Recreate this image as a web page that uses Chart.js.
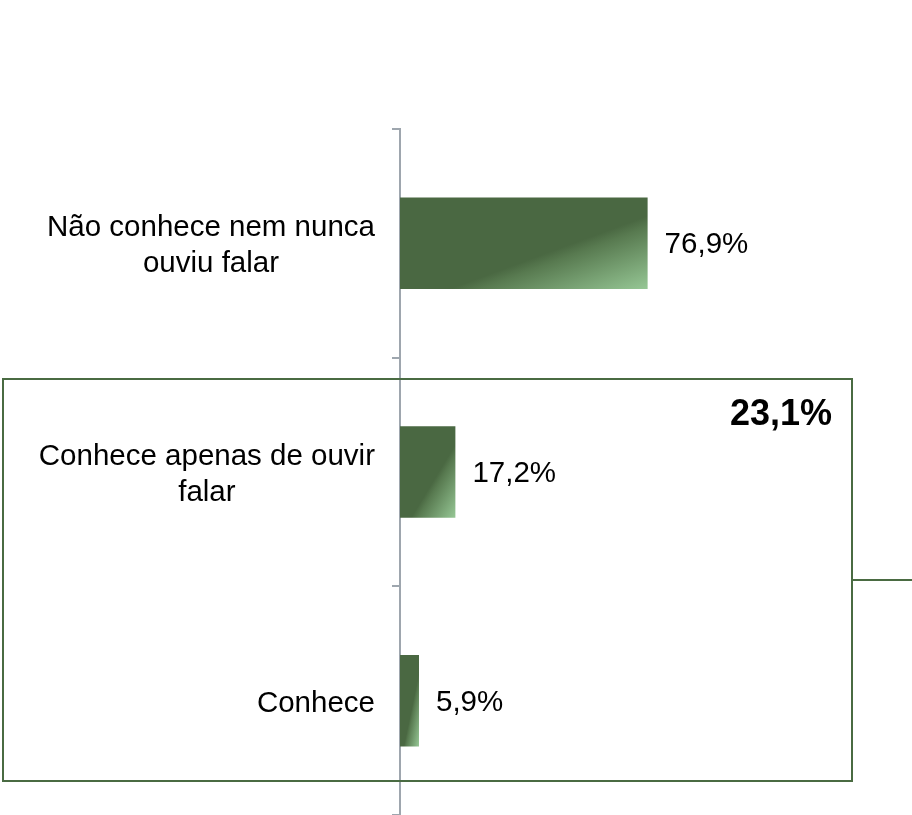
<!DOCTYPE html>
<html>
<head>
<meta charset="utf-8">
<script src="https://cdn.jsdelivr.net/npm/chart.js@4"></script>
<style>
  html, body { margin: 0; padding: 0; background: #ffffff; }
  #wrap { width: 912px; height: 815px; position: relative; }
</style>
</head>
<body>
<div id="wrap"><canvas id="c"></canvas></div>
<script>
// ---- data ----
const categories = [
  ['Não conhece nem nunca', 'ouviu falar'],
  ['Conhece apenas de ouvir', 'falar'],
  ['Conhece']
];
const values = [76.9, 17.2, 5.9];
const groupedIndexes = [1, 2]; // categories summed in the highlighted box

// ---- styles ----
const FONT = '"Liberation Sans", Arial, sans-serif';
const DARK = '#4a6842';
const LIGHT = '#96c795';
const BOX = '#4a6b42';
const AXIS = '#9ea6ae';
const BAR_FRACTION = 0.4;

const fmt = v => v.toFixed(1).replace('.', ',') + '%';

function barGradient(ctx) {
  const chart = ctx.chart;
  const xs = chart.scales.x, ys = chart.scales.y;
  if (ctx.type !== 'data' || !xs || !ys || !chart.chartArea) return DARK;
  const i = ctx.dataIndex;
  const x0 = xs.getPixelForValue(0);
  const x1 = xs.getPixelForValue(values[i]);
  const band = Math.abs(ys.getPixelForValue(1) - ys.getPixelForValue(0));
  const h = band * BAR_FRACTION;
  const y0 = ys.getPixelForValue(i) - h / 2;
  const w = Math.max(1, x1 - x0);
  const k = 2 * w * h / (h * h + w * w);
  const g = chart.ctx.createLinearGradient(x0, y0, x0 + h * k, y0 + w * k);
  g.addColorStop(0, DARK);
  g.addColorStop(0.6, DARK);
  g.addColorStop(0.66, '#587a50');
  g.addColorStop(1, LIGHT);
  return g;
}

const annotate = {
  id: 'annotate',
  afterDraw(chart) {
    const ctx = chart.ctx;
    const xs = chart.scales.x, ys = chart.scales.y;
    const area = chart.chartArea;
    ctx.save();
    // category labels: lines centred within block, block right-aligned
    ctx.font = '29.5px ' + FONT;
    ctx.fillStyle = '#000000';
    ctx.textBaseline = 'middle';
    ctx.textAlign = 'center';
    const lh = 36;
    categories.forEach((lines, i) => {
      const yc = ys.getPixelForValue(i) + 3;
      const bw = Math.max(...lines.map(l => ctx.measureText(l).width));
      const cx = area.left - 25 - bw / 2;
      lines.forEach((l, j) => {
        ctx.fillText(l, cx, yc + (j - (lines.length - 1) / 2) * lh);
      });
    });
    // value labels
    ctx.textAlign = 'left';
    values.forEach((v, i) => {
      ctx.fillText(fmt(v), xs.getPixelForValue(v) + 17, ys.getPixelForValue(i) + 2);
    });
    // highlight box
    const band = ys.getPixelForValue(1) - ys.getPixelForValue(0);
    const first = groupedIndexes[0], last = groupedIndexes[groupedIndexes.length - 1];
    const top = Math.round(ys.getPixelForValue(first) - band / 2 + 21);
    const bottom = Math.round(ys.getPixelForValue(last) + 80);
    const left = 3, right = 852;
    ctx.strokeStyle = BOX;
    ctx.lineWidth = 2;
    ctx.strokeRect(left, top, right - left, bottom - top);
    const mid = Math.round((top + bottom) / 2);
    ctx.beginPath();
    ctx.moveTo(right, mid);
    ctx.lineTo(chart.width, mid);
    ctx.stroke();
    // total
    const total = groupedIndexes.reduce((s, i) => s + values[i], 0);
    ctx.font = 'bold 36px ' + FONT;
    ctx.textAlign = 'right';
    ctx.textBaseline = 'alphabetic';
    ctx.fillText(fmt(total), right - 20, top + 46);
    ctx.restore();
  }
};

new Chart(document.getElementById('c'), {
  type: 'bar',
  data: {
    labels: categories,
    datasets: [{
      data: values,
      backgroundColor: barGradient,
      borderWidth: 0,
      barPercentage: BAR_FRACTION,
      categoryPercentage: 1
    }]
  },
  options: {
    indexAxis: 'y',
    responsive: true,
    maintainAspectRatio: false,
    animation: false,
    devicePixelRatio: 1,
    layout: { padding: { top: 129, right: 190, bottom: 0, left: 0 } },
    plugins: { legend: { display: false }, tooltip: { enabled: false } },
    scales: {
      x: { display: false, min: 0, max: 100 },
      y: {
        afterFit(scale) { scale.width = 400; },
        ticks: { display: false },
        grid: {
          drawOnChartArea: false,
          drawTicks: true,
          tickLength: 8,
          color: AXIS,
          lineWidth: 2,
          offset: true
        },
        border: { display: true, color: AXIS, width: 2 }
      }
    }
  },
  plugins: [annotate]
});
</script>
</body>
</html>
